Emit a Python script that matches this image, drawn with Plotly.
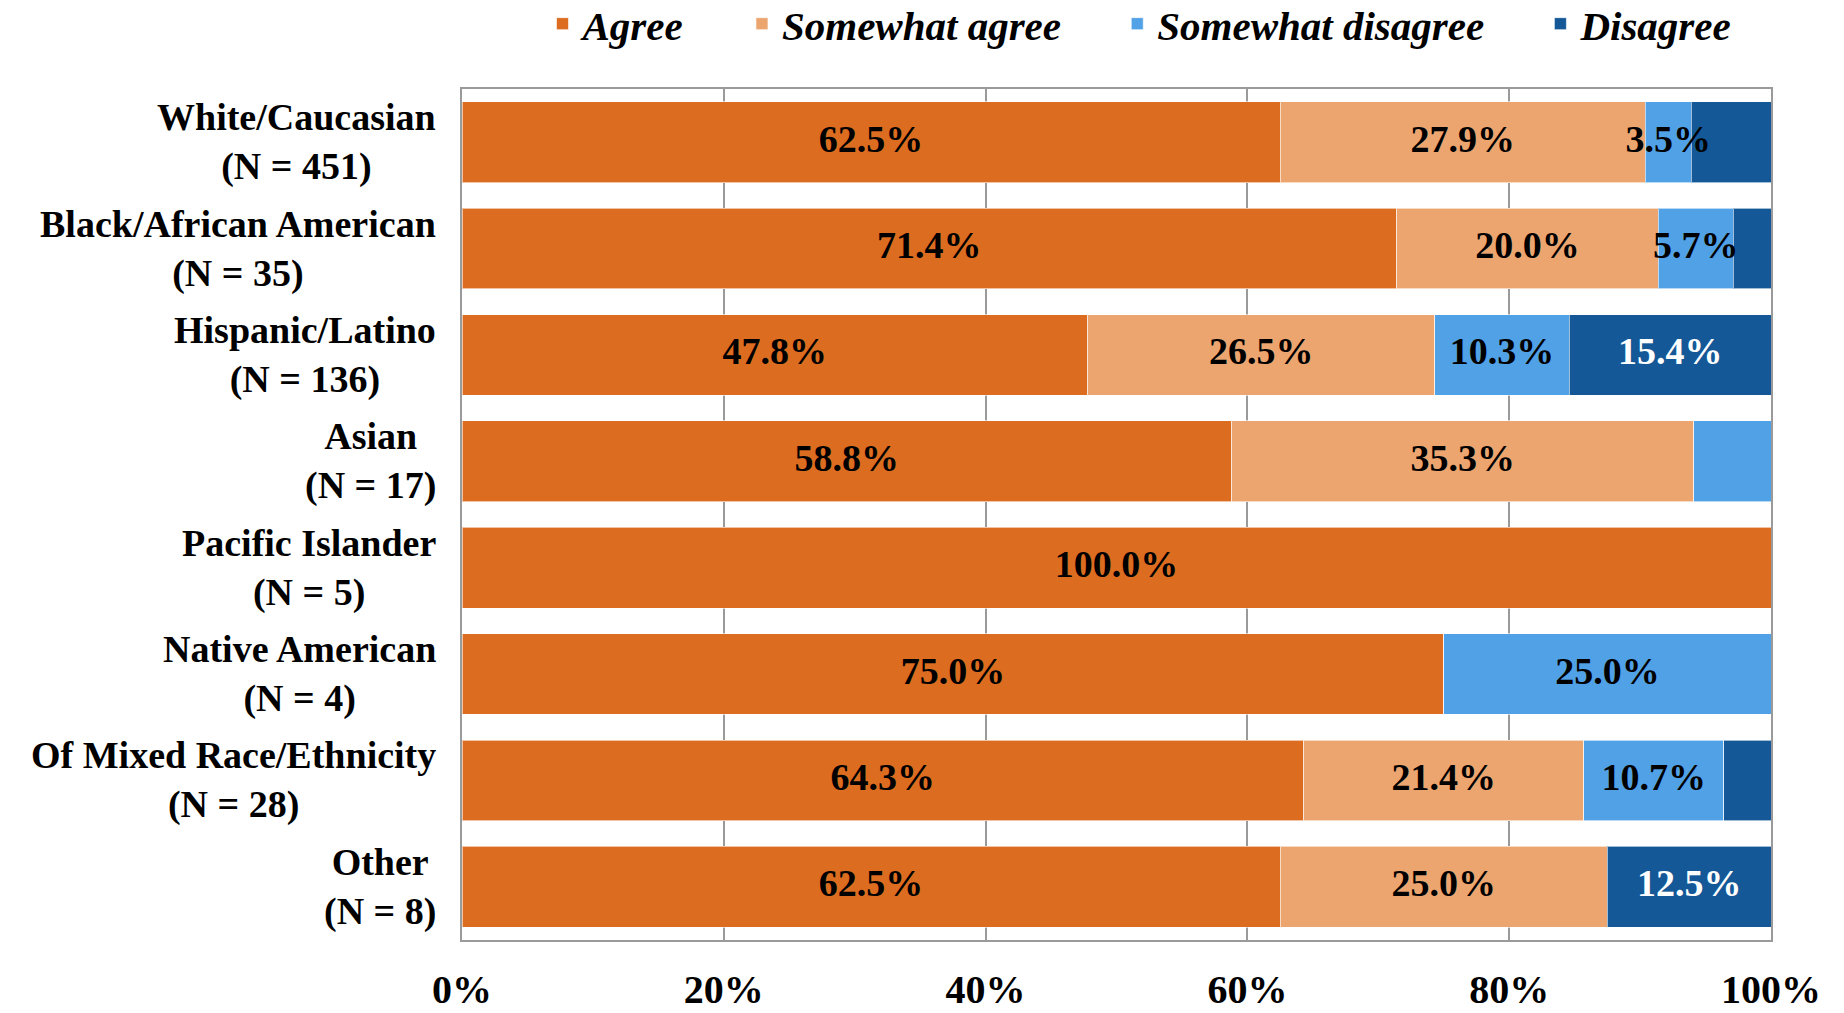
import plotly.graph_objects as go

categories = [
    "White/Caucasian<br>(N = 451)",
    "Black/African American<br>(N = 35)",
    "Hispanic/Latino<br>(N = 136)",
    "Asian<br>(N = 17)",
    "Pacific Islander<br>(N = 5)",
    "Native American<br>(N = 4)",
    "Of Mixed Race/Ethnicity<br>(N = 28)",
    "Other<br>(N = 8)",
]
series_names = ["Agree", "Somewhat agree", "Somewhat disagree", "Disagree"]
agree = [62.5, 71.4, 47.8, 58.8, 100.0, 75.0, 64.3, 62.5]
somewhat_agree = [27.9, 20.0, 26.5, 35.3, 0.0, 0.0, 21.4, 25.0]
somewhat_disagree = [3.5, 5.7, 10.3, 5.9, 0.0, 25.0, 10.7, 0.0]
disagree = [6.1, 2.9, 15.4, 0.0, 0.0, 0.0, 3.6, 12.5]
# whether the value label is printed in the original
show_agree = [1, 1, 1, 1, 1, 1, 1, 1]
show_somewhat_agree = [1, 1, 1, 1, 0, 0, 1, 1]
show_somewhat_disagree = [1, 1, 1, 0, 0, 1, 1, 0]
show_disagree = [0, 0, 1, 0, 0, 0, 0, 1]
x_tick_vals = [0, 20, 40, 60, 80, 100]
x_tick_text = ["0%", "20%", "40%", "60%", "80%", "100%"]

colors = ["#DC6C1F", "#ECA56F", "#51A1E7", "#145897"]
label_colors = ["black", "black", "black", "white"]
FONT = "Liberation Serif"

all_vals = [agree, somewhat_agree, somewhat_disagree, disagree]
all_shows = [show_agree, show_somewhat_agree, show_somewhat_disagree, show_disagree]

fig = go.Figure()
n_series = len(series_names)
for i, (name, vals, col) in enumerate(zip(series_names, all_vals, colors)):
    pad = "\u00a0" * 5 if i < n_series - 1 else ""
    fig.add_trace(go.Bar(
        name=name + pad,
        y=categories, x=vals, orientation="h",
        marker=dict(color=col, line=dict(color="rgba(255,255,255,0.6)", width=1)),
        hoverinfo="skip",
    ))

# value labels, drawn on top of all bars (centred in each segment)
base = [0.0] * len(categories)
for vals, shows, lc in zip(all_vals, all_shows, label_colors):
    mids, ys, texts = [], [], []
    for k, (v, s) in enumerate(zip(vals, shows)):
        if s and v > 0:
            mids.append(base[k] + v / 2)
            ys.append(categories[k])
            texts.append(f"{v:.1f}%")
        base[k] += v
    fig.add_trace(go.Scatter(
        x=mids, y=ys, mode="text", text=texts, textposition="middle center",
        textfont=dict(family=FONT, size=38, color=lc, weight="bold"),
        showlegend=False, hoverinfo="skip", cliponaxis=False,
    ))

for c in categories:
    fig.add_annotation(
        x=0, xref="paper", y=c, yref="y", xanchor="right", yanchor="middle",
        xshift=-24, text=c, showarrow=False, align="center",
        font=dict(family=FONT, size=38, color="black", weight="bold"),
    )

fig.update_layout(
    barmode="stack", bargap=0.24,
    width=1844, height=1013,
    margin=dict(l=462, r=73, t=89, b=73),
    plot_bgcolor="white", paper_bgcolor="white",
    legend=dict(
        orientation="h", x=(1140 - 462) / 1309, xref="paper", xanchor="center",
        y=1 - 24 / 1013, yref="container", yanchor="middle",
        font=dict(family=FONT, size=41, color="black", weight="bold", style="italic"),
        traceorder="normal",
    ),
    showlegend=True,
)
fig.update_xaxes(
    range=[0, 100], tickvals=x_tick_vals, ticktext=x_tick_text,
    showgrid=True, gridcolor="#9A9A9A", gridwidth=2,
    showline=True, linecolor="#9A9A9A", linewidth=2, mirror=True,
    zeroline=False, ticks="", ticklabelstandoff=13, automargin=False,
    tickfont=dict(family=FONT, size=40, color="black", weight="bold"),
)
fig.update_yaxes(
    autorange="reversed", showticklabels=False, automargin=False,
    showline=True, linecolor="#9A9A9A", linewidth=2, mirror=True,
    showgrid=False, ticks="",
)
fig.write_html("out.html", config={"displayModeBar": False},
               post_script="document.body.style.margin='0';")
